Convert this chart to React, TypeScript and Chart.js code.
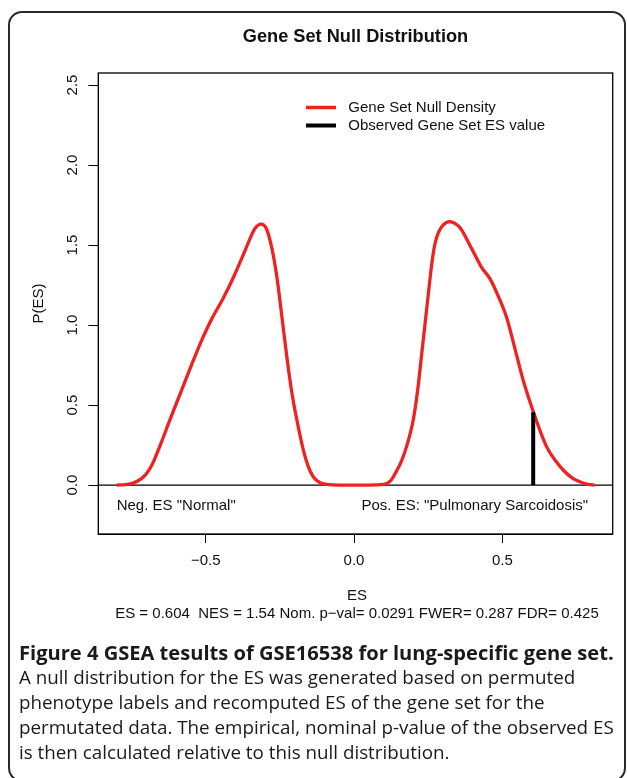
import React, { useEffect, useRef } from "react";
import { Chart, registerables } from "chart.js";

Chart.register(...registerables);

// ---------- data ----------
const chartTitle = "Gene Set Null Distribution";
const densityX = [
  -0.8, -0.77, -0.745, -0.72, -0.7, -0.68, -0.653, -0.62, -0.586, -0.55, -0.51, -0.479, -0.44, -0.406,
  -0.38, -0.355, -0.335, -0.313, -0.295, -0.277, -0.26, -0.243, -0.225, -0.208, -0.193, -0.171, -0.155,
  -0.137, -0.115, -0.092, -0.05, 0.0, 0.05, 0.099, 0.125, 0.144, 0.16, 0.177, 0.2, 0.215, 0.23, 0.242,
  0.252, 0.262, 0.272, 0.285, 0.3, 0.323, 0.34, 0.357, 0.396, 0.43, 0.458, 0.492, 0.514, 0.54, 0.57,
  0.605, 0.649, 0.68, 0.705, 0.735, 0.761, 0.79, 0.811,
];
const densityY = [
  0.0, 0.003, 0.012, 0.035, 0.07, 0.13, 0.25, 0.41, 0.57, 0.74, 0.92, 1.04, 1.17, 1.3,
  1.41, 1.52, 1.6, 1.63, 1.6, 1.48, 1.3, 1.05, 0.78, 0.56, 0.41, 0.22, 0.12,
  0.05, 0.015, 0.004, 0.0, 0.0, 0.0, 0.004, 0.03, 0.09, 0.15, 0.24, 0.41, 0.6, 0.85, 1.05,
  1.22, 1.38, 1.5, 1.58, 1.625, 1.646, 1.635, 1.61, 1.48, 1.36, 1.29, 1.156, 1.05, 0.87, 0.656,
  0.455, 0.24, 0.15, 0.094, 0.045, 0.02, 0.004, 0.0,
];
const observedES = 0.604;
const observedDensity = 0.455;
const xTicks = [-0.5, 0, 0.5];
const xTickLabels = ["\u22120.5", "0.0", "0.5"];
const yTicks = [0, 0.5, 1, 1.5, 2, 2.5];
const yTickLabels = ["0.0", "0.5", "1.0", "1.5", "2.0", "2.5"];
const xAxisTitle = "ES";
const statsLine = "ES = 0.604  NES = 1.54 Nom. p\u2212val= 0.0291 FWER= 0.287 FDR= 0.425";
const yAxisTitle = "P(ES)";
const legendLabels = ["Gene Set Null Density", "Observed Gene Set ES value"];
const negLabel = 'Neg. ES "Normal"';
const posLabel = 'Pos. ES: "Pulmonary Sarcoidosis"';
const captionTitle = "Figure 4 GSEA tesults of GSE16538 for lung-specific gene set.";
const captionLines = [
  "A null distribution for the ES was generated based on permuted",
  "phenotype labels and recomputed ES of the gene set for the",
  "permutated data. The empirical, nominal p-value of the observed ES",
  "is then calculated relative to this null distribution.",
];

// ---------- styles ----------
const RED = "#ee2222";
const FONT = "'Liberation Sans', Arial, Helvetica, sans-serif";
const CANVAS_W = 627;
const CANVAS_H = 640;

const rPlugin = {
  id: "rstyle",
  beforeDatasetsDraw(chart: any) {
    const { ctx, chartArea: ca, scales } = chart;
    const y0 = scales.y.getPixelForValue(0);
    ctx.save();
    ctx.strokeStyle = "#000";
    ctx.lineWidth = 1.3;
    ctx.beginPath();
    ctx.moveTo(ca.left, y0);
    ctx.lineTo(ca.right, y0);
    ctx.stroke();
    ctx.restore();
  },
  afterDraw(chart: any) {
    const { ctx, chartArea: ca, scales } = chart;
    const xs = scales.x;
    const ys = scales.y;
    ctx.save();
    ctx.strokeStyle = "#000";
    ctx.lineWidth = 1.3;
    ctx.strokeRect(ca.left, ca.top, ca.right - ca.left, ca.bottom - ca.top);

    ctx.fillStyle = "#111";
    ctx.font = `bold 18.2px ${FONT}`;
    ctx.textAlign = "center";
    ctx.textBaseline = "middle";
    ctx.fillText(chartTitle, (ca.left + ca.right) / 2, 37);

    ctx.font = `15px ${FONT}`;
    ys.ticks.forEach((t: any, i: number) => {
      const py = ys.getPixelForValue(t.value);
      ctx.save();
      ctx.translate(72.8, py);
      ctx.rotate(-Math.PI / 2);
      ctx.textAlign = "center";
      ctx.textBaseline = "middle";
      ctx.fillText(yTickLabels[i], 0, 0);
      ctx.restore();
    });

    ctx.save();
    ctx.translate(38.5, (ca.top + ca.bottom) / 2);
    ctx.rotate(-Math.PI / 2);
    ctx.textAlign = "center";
    ctx.textBaseline = "middle";
    ctx.fillText(yAxisTitle, 0, 0);
    ctx.restore();

    ctx.textAlign = "center";
    ctx.textBaseline = "middle";
    const cx = (ca.left + ca.right) / 2 + 1.5;
    ctx.fillText(xAxisTitle, cx, 596);
    ctx.fillText(statsLine, cx, 613.5);

    const legendColors = [RED, "#000"];
    const legendWidths = [3.5, 4];
    const rows = [107.5, 125.5];
    legendLabels.forEach((lab, i) => {
      ctx.strokeStyle = legendColors[i];
      ctx.lineWidth = legendWidths[i];
      ctx.beginPath();
      ctx.moveTo(306, rows[i]);
      ctx.lineTo(336, rows[i]);
      ctx.stroke();
      ctx.textAlign = "left";
      ctx.fillText(lab, 348.3, rows[i]);
    });

    const annY = ys.getPixelForValue(-0.128);
    ctx.textAlign = "left";
    ctx.fillText(negLabel, xs.getPixelForValue(-0.8), annY);
    ctx.textAlign = "right";
    ctx.fillText(posLabel, xs.getPixelForValue(0.789), annY);
    ctx.restore();
  },
};

export default function App() {
  const canvasRef = useRef<HTMLCanvasElement | null>(null);

  useEffect(() => {
    if (!canvasRef.current) return;
    const density = densityX.map((x, i) => ({ x, y: densityY[i] }));
    const esBar = [
      { x: observedES, y: 0 },
      { x: observedES, y: observedDensity },
    ];
    const chart = new Chart(canvasRef.current, {
      type: "line",
      data: {
        datasets: [
          {
            label: legendLabels[1],
            data: esBar,
            borderColor: "#000",
            borderWidth: 4,
            pointRadius: 0,
            tension: 0,
            order: 0,
          },
          {
            label: legendLabels[0],
            data: density,
            borderColor: RED,
            borderWidth: 3.3,
            pointRadius: 0,
            cubicInterpolationMode: "monotone",
            order: 1,
          },
        ],
      },
      options: {
        animation: false,
        responsive: false,
        maintainAspectRatio: false,
        events: [],
        layout: { padding: { left: 0, top: 73, right: CANVAS_W - 612.7, bottom: 0 } },
        plugins: {
          legend: { display: false },
          tooltip: { enabled: false },
          title: { display: false },
        },
        scales: {
          x: {
            type: "linear",
            min: -0.862,
            max: 0.872,
            afterBuildTicks: (s: any) => {
              s.ticks = xTicks.map((v) => ({ value: v }));
            },
            afterFit: (s: any) => {
              s.height = CANVAS_H - 534;
            },
            grid: {
              display: true,
              drawOnChartArea: false,
              drawTicks: true,
              tickLength: 9,
              color: "#000",
              lineWidth: 1,
            },
            border: { display: true, color: "#000", width: 1 },
            ticks: {
              padding: 9,
              color: "#111",
              autoSkip: false,
              maxRotation: 0,
              font: { family: FONT, size: 15 },
              callback: (_v: any, i: number) => xTickLabels[i],
            },
          },
          y: {
            type: "linear",
            min: -0.306,
            max: 2.575,
            afterBuildTicks: (s: any) => {
              s.ticks = yTicks.map((v) => ({ value: v }));
            },
            afterFit: (s: any) => {
              s.width = 98.3;
            },
            grid: {
              display: true,
              drawOnChartArea: false,
              drawTicks: true,
              tickLength: 10,
              color: "#000",
              lineWidth: 1,
            },
            border: { display: true, color: "#000", width: 1 },
            ticks: { display: false },
          },
        },
      },
      plugins: [rPlugin],
    } as any);
    return () => chart.destroy();
  }, []);

  return (
    <div style={{ position: "absolute", left: 0, top: 0, width: CANVAS_W, height: 778, background: "#fff" }}>
      <canvas
        ref={canvasRef}
        width={CANVAS_W}
        height={CANVAS_H}
        style={{ position: "absolute", left: 0, top: 0, width: CANVAS_W, height: CANVAS_H }}
      />
      <div
        style={{
          position: "absolute",
          left: 8,
          top: 11,
          width: 618,
          height: 771,
          boxSizing: "border-box",
          border: "2px solid #2a2a2a",
          borderRadius: 14,
          pointerEvents: "none",
        }}
      />
      <div
        style={{
          position: "absolute",
          left: 19,
          top: 639.5,
          width: 605,
          fontFamily: "'Open Sans', sans-serif",
          fontSize: 18.8,
          lineHeight: "25px",
          color: "#1a1a1a",
          whiteSpace: "nowrap",
        }}
      >
        <div style={{ fontWeight: 700, fontSize: 20.1 }}>{captionTitle}</div>
        {captionLines.map((l, i) => (
          <div key={i}>{l}</div>
        ))}
      </div>
    </div>
  );
}
